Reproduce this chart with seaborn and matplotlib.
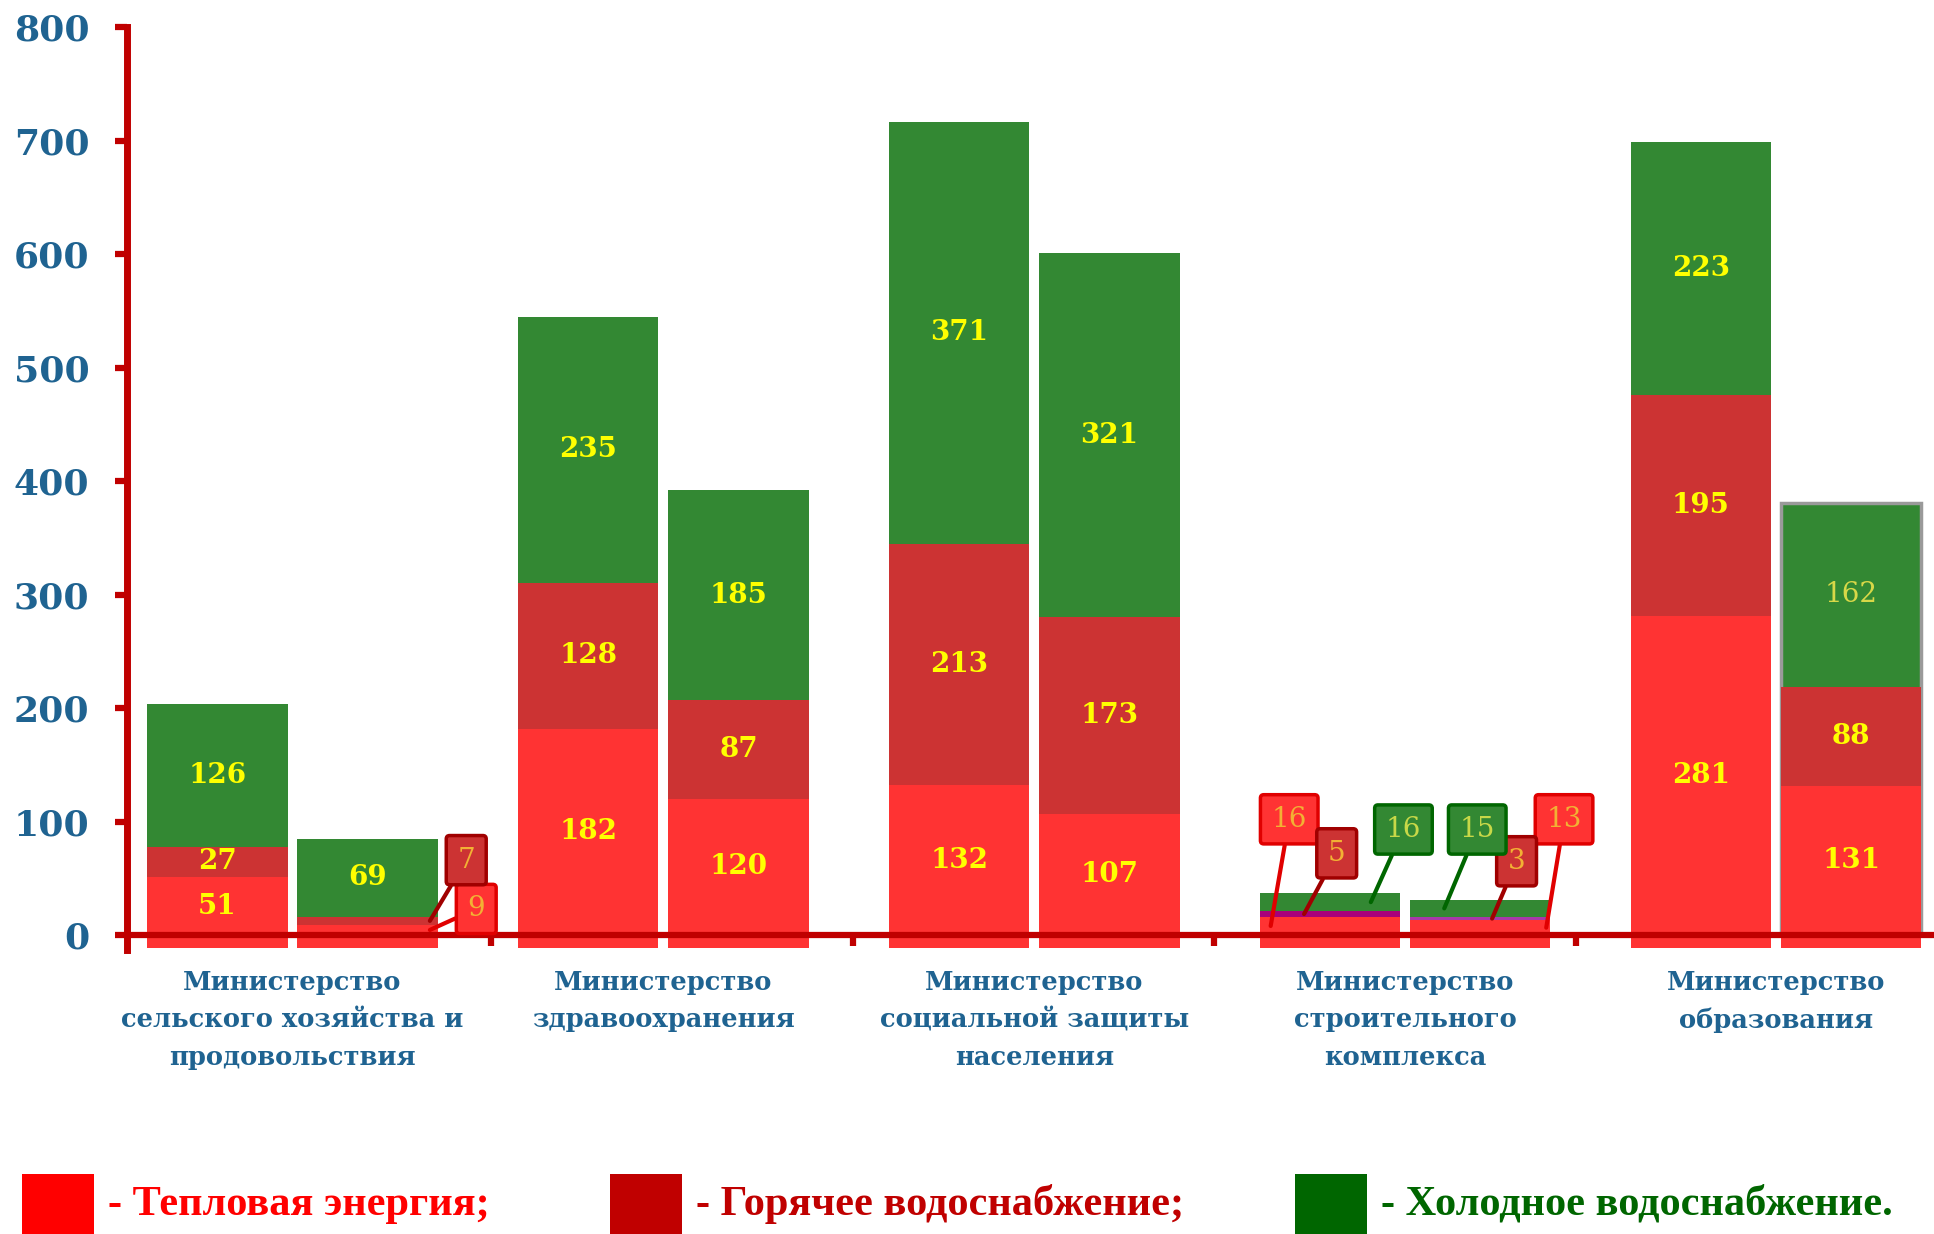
import numpy as np
import pandas as pd
import matplotlib
matplotlib.use('Agg')
import matplotlib.pyplot as plt
from matplotlib.patches import Rectangle
import seaborn as sns

# data
ministries = ['Министерство\nсельского хозяйства и\nпродовольствия',
              'Министерство\nздравоохранения',
              'Министерство\nсоциальной защиты\nнаселения',
              'Министерство\nстроительного\nкомплекса',
              'Министерство\nобразования']
pair = ['A', 'B']
heat_a = [51, 182, 132, 16, 281]
heat_b = [9, 120, 107, 13, 131]
hot_a = [27, 128, 213, 5, 195]
hot_b = [7, 87, 173, 3, 88]
cold_a = [126, 235, 371, 16, 223]
cold_b = [69, 185, 321, 15, 162]
yticks = [0, 100, 200, 300, 400, 500, 600, 700, 800]
legend_labels = ['- Тепловая энергия;', '- Горячее водоснабжение;', '- Холодное водоснабжение.']

HEAT, HOT, COLD = '#FF3333', '#CC3333', '#338833'
AXRED = '#C00000'
BLUE = '#1F6391'
FLOOR = 11  # the "3d floor" the bars stand on, below zero

df = pd.DataFrame({
    'ministry': ministries * 2,
    'bar': ['A'] * 5 + ['B'] * 5,
    'heat': heat_a + heat_b,
    'hot': hot_a + hot_b,
    'cold': cold_a + cold_b,
})
df['hot_top'] = df['heat'] + df['hot']
df['total'] = df['hot_top'] + df['cold']
df['floor'] = -FLOOR

sns.set_theme(style='white')
plt.rcParams['font.family'] = ['DejaVu Serif', 'DejaVu Sans']

fig = plt.figure(figsize=(19.34, 12.34), dpi=100)
ax = fig.add_axes([0.0657, 0.2303, 0.9343, 0.7477])

for col, c in [('total', COLD), ('hot_top', HOT), ('heat', HEAT), ('floor', HEAT)]:
    sns.barplot(data=df, x='ministry', y=col, hue='bar', order=ministries, hue_order=pair,
                palette=[c, c], saturation=1, dodge=True, width=0.81, gap=0.065,
                errorbar=None, legend=False, linewidth=0, ax=ax)

# construction ministry hot water drawn purple, last green bar has a grey rim
ax.containers[2][3].set_facecolor('#A8007A')
ax.containers[3][3].set_facecolor('#A838A8')
ax.containers[1][4].set_edgecolor('#9A9A9A')
ax.containers[1][4].set_linewidth(2.5)

# callouts for the thin segments: (anchor dx, box dx, box y)
callouts = {
    (0, 'B', 'hot'): (0.168, 0.266, 66),
    (0, 'B', 'heat'): (0.168, 0.293, 23),
    (3, 'A', 'heat'): (-0.16, -0.11, 102),
    (3, 'A', 'hot'): (-0.07, 0.018, 72),
    (3, 'A', 'cold'): (0.11, 0.198, 93),
    (3, 'B', 'cold'): (-0.097, -0.008, 93),
    (3, 'B', 'hot'): (0.032, 0.098, 65),
    (3, 'B', 'heat'): (0.178, 0.226, 102),
}
box_style = {
    'heat': ('#FF3333', '#E00000', '#F2B134'),
    'hot': ('#CC3333', '#A00000', '#F2B134'),
    'cold': ('#338833', '#006600', '#C8D848'),
}

for _, r in df.iterrows():
    i = ministries.index(r['ministry'])
    xc = i + (-0.2025 if r['bar'] == 'A' else 0.2025)
    segs = [('heat', 0, r['heat']), ('hot', r['heat'], r['hot']), ('cold', r['hot_top'], r['cold'])]
    for layer, base, v in segs:
        ymid = base + v / 2
        key = (i, r['bar'], layer)
        if key in callouts:
            adx, bdx, by = callouts[key]
            fc, ec, tc = box_style[layer]
            ax.annotate(str(v), xy=(xc + adx, ymid), xytext=(xc + bdx, by),
                        ha='center', va='center', fontsize=20, color=tc, zorder=8,
                        bbox=dict(boxstyle='round,pad=0.4,rounding_size=0.12', fc=fc, ec=ec, lw=2.5),
                        arrowprops=dict(arrowstyle='-', color=ec, lw=3, shrinkA=0, shrinkB=0))
        elif i == 4 and r['bar'] == 'B' and layer == 'cold':
            ax.text(xc, ymid, str(v), ha='center', va='center', fontsize=20, color='#D8D848', zorder=6)
        else:
            ax.text(xc, ymid, str(v), ha='center', va='center', fontsize=20,
                    fontweight='bold', color='#FFFF00', zorder=6)

# spines first: moving a spine resets the axis ticks
for s in ['top', 'right']:
    ax.spines[s].set_visible(False)
ax.spines['left'].set_color(AXRED)
ax.spines['left'].set_linewidth(5)
ax.spines['bottom'].set_position(('data', 0))
ax.spines['bottom'].set_color(AXRED)
ax.spines['bottom'].set_linewidth(4.5)
ax.spines['bottom'].set_zorder(5)
ax.grid(False)

ax.set_xlim(-0.446, 4.426)
ax.set_ylim(-13, 800)
ax.set_yticks(yticks)
ax.set_yticklabels([str(t) for t in yticks], fontsize=26, fontweight='bold', color=BLUE)
ax.tick_params(axis='y', direction='out', length=9, width=4.5, color=AXRED, pad=18, left=True)

ax.set_xticks(range(len(ministries)))
ax.set_xticklabels(ministries, fontsize=18.5, fontweight='bold', color=BLUE, linespacing=1.62)
ax.set_xticks(np.linspace(0.535, 3.46, 4), minor=True)
ax.tick_params(axis='x', which='major', length=0, pad=25)
ax.tick_params(axis='x', which='minor', direction='out', length=8, width=4.5, color=AXRED, bottom=True)
ax.set_xlabel('')
ax.set_ylabel('')

# legend along the bottom edge
W, H = 1934, 1234
leg_colors = ['#FF0000', '#C00000', '#006600']
sq_x = [22, 610, 1295]
for lx, lab, c in zip(sq_x, legend_labels, leg_colors):
    fig.patches.append(Rectangle((lx / W, 0), 72 / W, 60 / H, transform=fig.transFigure,
                                 facecolor=c, edgecolor='none'))
    fig.text((lx + 86) / W, 19 / H, lab, fontsize=30.5, fontweight='bold', color=c,
             family=['Liberation Serif', 'DejaVu Serif'], ha='left', va='baseline')

fig.savefig('out.png', dpi=100)
